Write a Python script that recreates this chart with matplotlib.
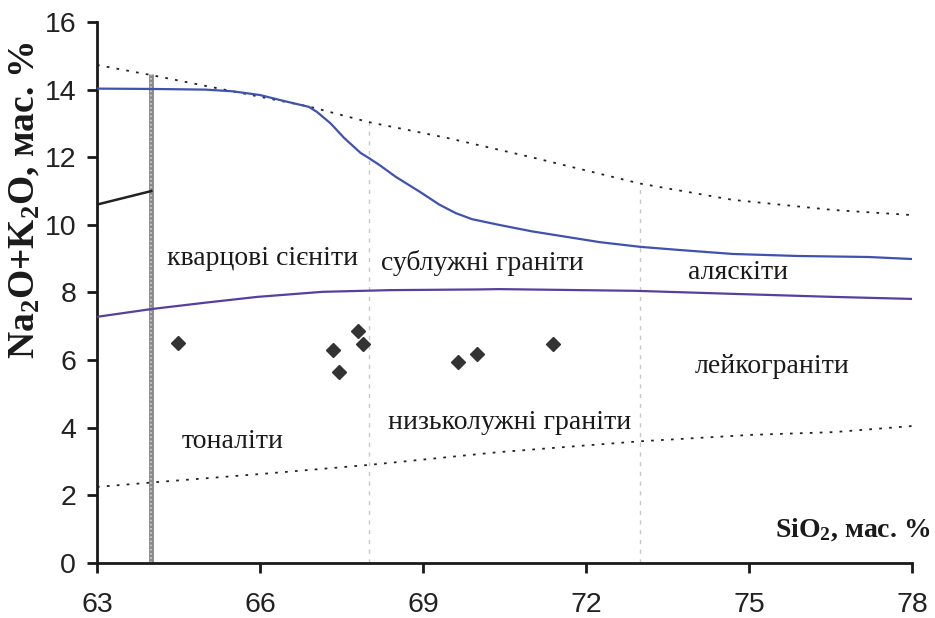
import matplotlib
matplotlib.use("Agg")
import matplotlib.pyplot as plt

plt.rcParams['mathtext.fontset'] = 'custom'
plt.rcParams['mathtext.rm'] = 'Liberation Serif:bold'
plt.rcParams['mathtext.it'] = 'Liberation Serif:bold'
plt.rcParams['mathtext.bf'] = 'Liberation Serif:bold'

# Sample points (SiO2, Na2O+K2O)
sio2 = [64.5, 67.35, 67.45, 67.8, 67.9, 69.65, 70.0, 71.4]
alk = [6.52, 6.30, 5.65, 6.85, 6.48, 5.95, 6.17, 6.48]

# Upper blue boundary
up_x = [63.0, 64.0, 65.0, 65.5, 66.0, 66.4, 66.9, 67.05, 67.3, 67.55, 67.85, 68.0, 68.2, 68.5,
        68.95, 69.3, 69.6, 69.9, 70.4, 71.0, 72.25, 73.0, 73.7, 74.7, 75.9, 77.2, 78.0]
up_y = [14.03, 14.02, 14.0, 13.95, 13.84, 13.68, 13.49, 13.34, 13.0, 12.57, 12.13, 11.98, 11.77, 11.42,
        10.97, 10.6, 10.35, 10.17, 10.0, 9.81, 9.49, 9.35, 9.26, 9.14, 9.08, 9.05, 8.99]

# Lower blue boundary
lo_x = [63.0, 64.0, 65.0, 65.95, 67.15, 68.4, 70.0, 70.4, 72.9, 74.7, 76.55, 78.0]
lo_y = [7.28, 7.51, 7.70, 7.87, 8.02, 8.07, 8.09, 8.10, 8.05, 7.96, 7.87, 7.81]

# Upper dotted line
ud_x = [63.0, 64.0, 65.0, 66.9, 68.0, 69.45, 71.0, 73.0, 74.7, 76.55, 78.0]
ud_y = [14.73, 14.43, 14.11, 13.5, 13.04, 12.57, 12.0, 11.22, 10.74, 10.44, 10.29]

# Lower dotted line
ld_x = [63.0, 64.0, 66.0, 68.0, 70.4, 73.0, 75.05, 76.55, 78.0]
ld_y = [2.25, 2.38, 2.63, 2.90, 3.28, 3.60, 3.79, 3.87, 4.05]

# Short black segment
seg_x = [63.0, 64.0]
seg_y = [10.6, 11.0]

# Vertical boundaries
v_gray = (64.0, 14.45)
v_dash = [(68.0, 13.04), (73.0, 11.22)]

# Field labels
labels = ["кварцові сієніти", "сублужні граніти", "аляскіти", "лейкограніти",
          "низьколужні граніти", "тоналіти"]
lab_x = [66.05, 70.09, 74.8, 75.42, 70.6, 65.5]
lab_y = [9.02, 8.87, 8.6, 5.8, 4.17, 3.58]

xticks = [63, 66, 69, 72, 75, 78]
yticks = [0, 2, 4, 6, 8, 10, 12, 14, 16]

fig = plt.figure(figsize=(9.35, 6.18), dpi=100)
ax = fig.add_axes([0.1037, 0.089, 0.8717, 0.8754])
ax.set_xlim(63, 78)
ax.set_ylim(0, 16)
ax.spines['top'].set_visible(False)
ax.spines['right'].set_visible(False)
for s in ['left', 'bottom']:
    ax.spines[s].set_linewidth(2.0)
    ax.spines[s].set_color('#1a1a1a')

ax.set_xticks(xticks)
ax.set_yticks(yticks)
ax.tick_params(direction='out', length=7, width=2.0, color='#1a1a1a',
               labelsize=20.5, pad=10)
for lab in ax.get_xticklabels() + ax.get_yticklabels():
    lab.set_fontfamily('Liberation Sans')
    lab.set_color('#222222')
ax.tick_params(axis='x', pad=14)
ax.tick_params(axis='y', pad=8)

# vertical lines
ax.plot([v_gray[0], v_gray[0]], [0, v_gray[1]], color='#8a8a8a', lw=3.5, solid_capstyle='butt', zorder=2)
ax.plot([v_gray[0], v_gray[0]], [0, v_gray[1]], color='#d0d0d0', lw=1.2, ls=(0, (1, 1.5)), zorder=2)
for vx, vy in v_dash:
    ax.plot([vx, vx], [0, vy], color='#c8c8c8', lw=1.0, ls=(0, (3, 4)), zorder=1)

# dotted lines
ax.plot(ud_x, ud_y, color='#222222', lw=1.3, ls=(0, (1.5, 4)), zorder=2)
ax.plot(ld_x, ld_y, color='#222222', lw=1.3, ls=(0, (1.5, 4)), zorder=2)

# short segment
ax.plot(seg_x, seg_y, color='#222222', lw=1.8, zorder=2)

# blue boundaries
ax.plot(up_x, up_y, color='#3f52b0', lw=1.6, zorder=3)
ax.plot(lo_x, lo_y, color='#573fa0', lw=1.6, zorder=3)

# points
ax.plot(sio2, alk, ls='none', marker='D', markersize=7.5, color='#333333', zorder=4)

for t, x, y in zip(labels, lab_x, lab_y):
    ax.text(x, y, t, ha='center', va='center', fontsize=20, family='Liberation Serif', color='#1a1a1a')

fig.text(0.027, 0.677, 'Na$_2$O+K$_2$O, мас. %', rotation=90, ha='center', va='center',
         fontsize=27, fontweight='bold', family='Liberation Serif', color='#1a1a1a')
ax.text(76.9, 1.0, 'SiO$_2$, мас. %', ha='center', va='center', fontsize=20,
        fontweight='bold', family='Liberation Serif', color='#1a1a1a')

fig.savefig('out.png', dpi=100)
